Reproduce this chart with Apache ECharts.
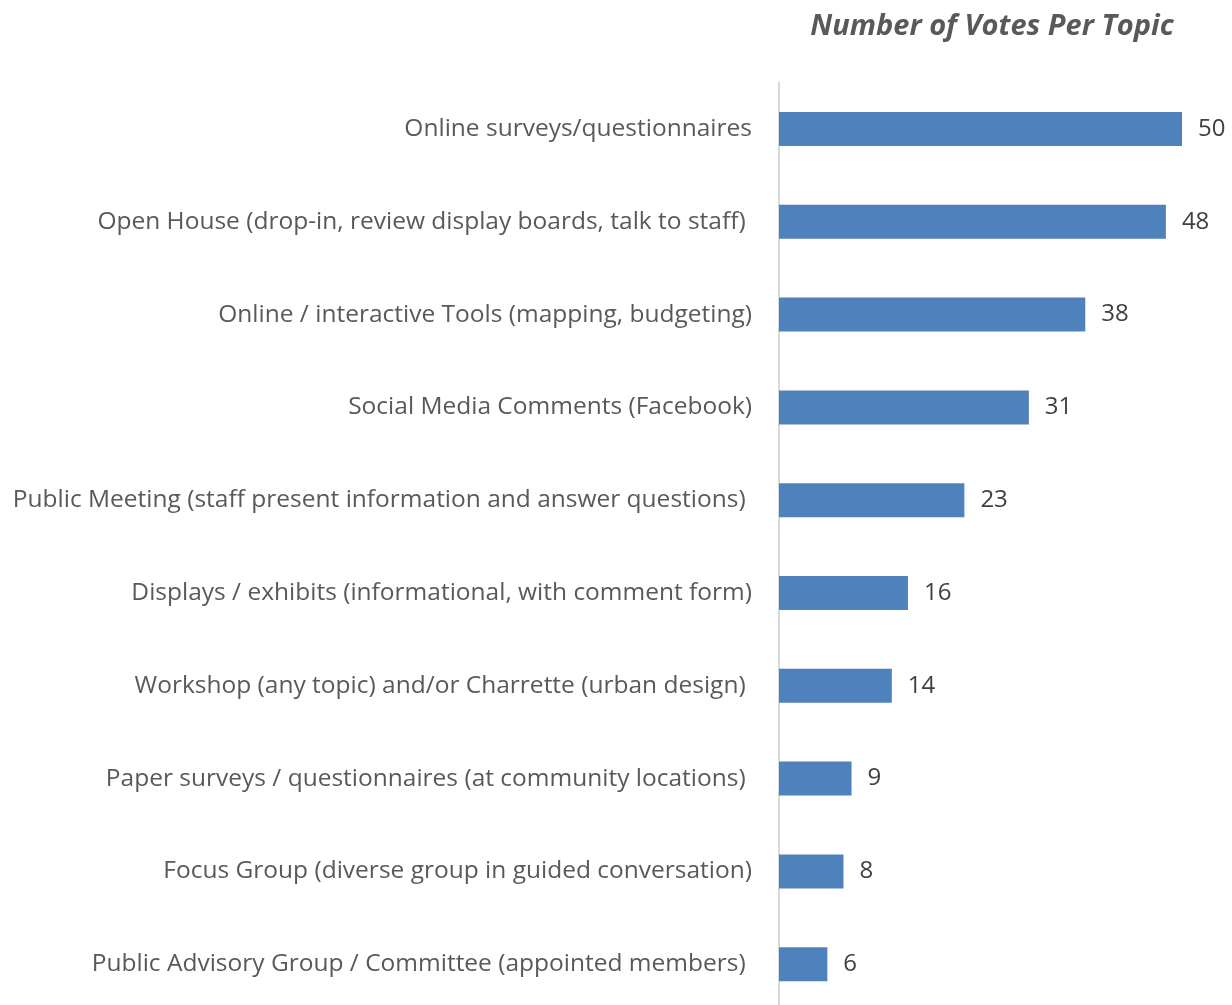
<!DOCTYPE html>
<html lang="en">
<head>
    <meta charset="UTF-8">
    <title>Number of Votes Per Topic</title>
    <script src="https://cdn.jsdelivr.net/npm/echarts@6.0.0/dist/echarts.min.js"></script>
    <style>
        html, body { margin: 0; padding: 0; background: #fff; }
    </style>
</head>
<body>

<div id="main" style="width: 1232px;height:1005px;"></div>
<script type="text/javascript">

    // categories, top to bottom
    let topics = [
        'Online surveys/questionnaires',
        'Open House (drop-in, review display boards, talk to staff) ',
        'Online / interactive Tools (mapping, budgeting)',
        'Social Media Comments (Facebook)',
        'Public Meeting (staff present information and answer questions) ',
        'Displays / exhibits (informational, with comment form)',
        'Workshop (any topic) and/or Charrette (urban design) ',
        'Paper surveys / questionnaires (at community locations) ',
        'Focus Group (diverse group in guided conversation)',
        'Public Advisory Group / Committee (appointed members) '
    ];
    let votes = [50, 48, 38, 31, 23, 16, 14, 9, 8, 6];

    let option = {
        backgroundColor: '#fff',
        title: {
            text: 'Number of Votes Per Topic',
            left: 987,
            top: 7,
            textAlign: 'center',
            textStyle: {
                fontFamily: 'Open Sans',
                fontStyle: 'italic',
                fontWeight: 'bold',
                fontSize: 29,
                color: '#595959'
            }
        },
        grid: {
            left: 779,
            top: 82.6,
            width: 403,
            height: 928,
            outerBoundsMode: 'none'
        },
        xAxis: {
            type: 'value',
            min: 0,
            max: 50,
            show: false
        },
        yAxis: {
            type: 'category',
            inverse: true,
            data: topics,
            axisTick: { show: false },
            axisLine: {
                show: true,
                lineStyle: { color: '#d9d9d9', width: 2 }
            },
            axisLabel: {
                margin: 27,
                fontFamily: 'Open Sans',
                fontSize: 24.5,
                color: '#595959'
            }
        },
        series: [{
            name: 'Votes',
            type: 'bar',
            barWidth: 34,
            data: votes,
            itemStyle: { color: '#4f81bd' },
            label: {
                show: true,
                position: 'right',
                distance: 16,
                fontFamily: 'Open Sans',
                fontSize: 24,
                color: '#404040'
            }
        }]
    };

    let myChart = echarts.init(document.getElementById('main'));
    myChart.setOption(option);
</script>
</body>
</html>
